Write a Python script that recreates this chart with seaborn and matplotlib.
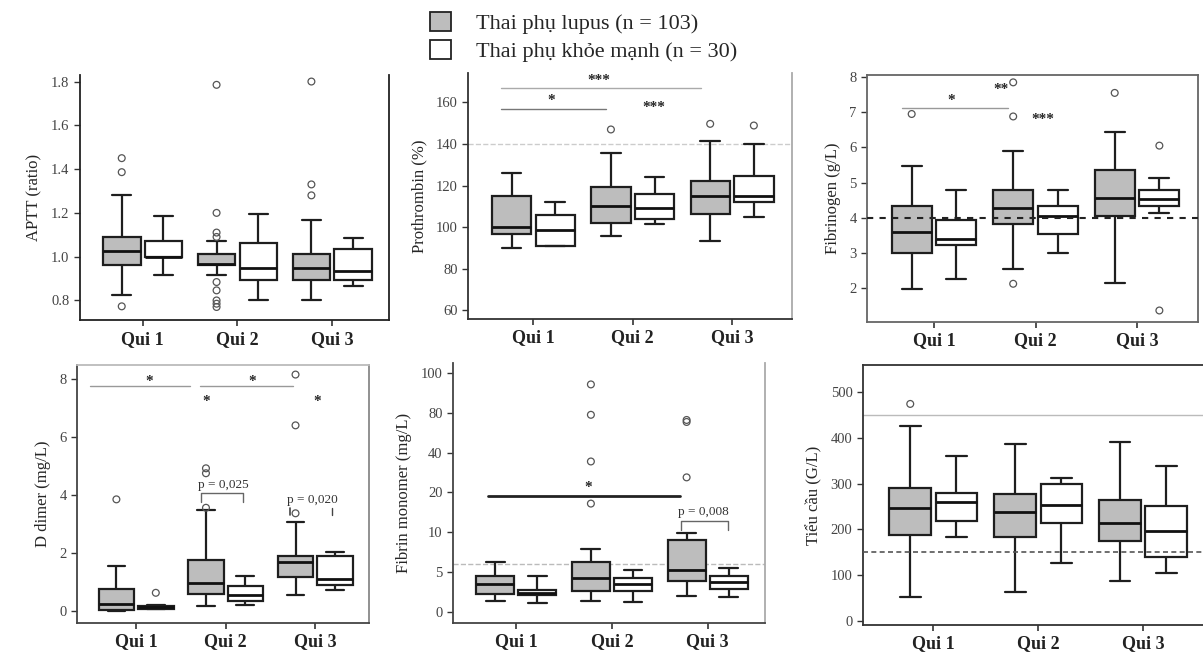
import numpy as np
import pandas as pd
import matplotlib
matplotlib.use("Agg")
import matplotlib.pyplot as plt
import seaborn as sns
from matplotlib.patches import Patch

# ---------------- data ----------------
CATEGORIES = ["Qui 1", "Qui 2", "Qui 3"]
GROUPS = ["Thai phụ lupus (n = 103)", "Thai phụ khỏe mạnh (n = 30)"]

# each row = [lower whisker, Q1, median, Q3, upper whisker] for Qui 1..3
APTT_LUPUS = [[0.823, 0.96, 1.024, 1.09, 1.281], [0.915, 0.96, 0.965, 1.014, 1.07], [0.803, 0.892, 0.95, 1.014, 1.166]]
APTT_HEALTHY = [[0.915, 1.0, 1.0, 1.07, 1.185], [0.803, 0.892, 0.95, 1.063, 1.194], [0.864, 0.895, 0.933, 1.034, 1.083]]
APTT_FLIERS_LUPUS = [[1.45, 1.386, 0.773], [1.785, 1.2, 1.11, 1.09, 0.884, 0.846, 0.80, 0.785, 0.77], [1.8, 1.33, 1.28]]
APTT_FLIERS_HEALTHY = [[], [], []]

PT_LUPUS = [[90.1, 96.5, 100, 115.2, 125.8], [95.7, 102.1, 110.4, 119.2, 135.4], [93.3, 106.4, 115.2, 122.1, 141.6]]
PT_HEALTHY = [[90.9, 90.9, 98.6, 105.8, 112.2], [101.3, 103.7, 109.3, 116, 124], [105, 112, 115.2, 124.8, 139.7]]
PT_FLIERS_LUPUS = [[], [146.9], [149.6]]
PT_FLIERS_HEALTHY = [[], [], [148.8]]

FIB_LUPUS = [[1.97, 3.0, 3.58, 4.34, 5.46], [2.54, 3.82, 4.27, 4.8, 5.89], [2.14, 4.04, 4.56, 5.36, 6.45]]
FIB_HEALTHY = [[2.26, 3.23, 3.39, 3.94, 4.8], [3.0, 3.54, 4.04, 4.32, 4.8], [4.13, 4.32, 4.53, 4.8, 5.13]]
FIB_FLIERS_LUPUS = [[6.95], [7.85, 6.88, 2.12], [7.55]]
FIB_FLIERS_HEALTHY = [[], [], [6.05, 1.36]]

DD_LUPUS = [[0.02, 0.05, 0.23, 0.77, 1.54], [0.16, 0.6, 0.98, 1.75, 3.48], [0.56, 1.18, 1.69, 1.89, 3.08]]
DD_HEALTHY = [[0.07, 0.07, 0.14, 0.17, 0.2], [0.22, 0.35, 0.54, 0.85, 1.2], [0.71, 0.91, 1.12, 1.89, 2.04]]
DD_FLIERS_LUPUS = [[3.85], [4.92, 4.75, 3.56], [8.15, 6.4, 3.37]]
DD_FLIERS_HEALTHY = [[0.63], [], []]

FM_LUPUS = [[1.4, 2.2, 3.44, 4.5, 6.3], [1.4, 2.65, 4.2, 6.3, 7.85], [1.97, 3.9, 5.25, 9.0, 9.85]]
FM_HEALTHY = [[1.05, 2.1, 2.4, 2.7, 4.5], [1.25, 2.65, 3.44, 4.2, 5.3], [1.9, 2.9, 3.7, 4.5, 5.45]]
FM_FLIERS_LUPUS = [[], [94.4, 78.2, 35.6, 17.2], [73, 71, 27.6]]
FM_FLIERS_HEALTHY = [[], [], []]
FM_TICKS = [0, 5, 10, 20, 40, 80, 100]

PLT_LUPUS = [[53, 187.5, 246, 291, 425], [62.5, 184, 237, 277, 386], [88, 174, 215, 264, 391]]
PLT_HEALTHY = [[184, 219, 259, 280.5, 360], [127, 215, 254, 300, 312.5], [104, 140, 197, 251, 338]]
PLT_FLIERS_LUPUS = [[474], [], []]
PLT_FLIERS_HEALTHY = [[], [], []]

# ---------------- style ----------------
sns.set_theme(style="white")
plt.rcParams["font.family"] = ["Liberation Serif", "DejaVu Serif"]
plt.rcParams["xtick.bottom"] = True
plt.rcParams["ytick.left"] = True

FILL_LUPUS = "#bdbdbd"
PALETTE = {GROUPS[0]: FILL_LUPUS, GROUPS[1]: "white"}
BOX_W = 0.88
GAP = 0.1
XLIM = (-0.66, 2.6)

fig = plt.figure(figsize=(12.03, 6.52), dpi=100)


def long_frame(lupus, healthy):
    rows = []
    for g, boxes in zip(GROUPS, [lupus, healthy]):
        for c, vals in zip(CATEGORIES, boxes):
            for v in vals:
                rows.append((c, g, v))
    return pd.DataFrame(rows, columns=["quarter", "group", "value"])


def panel(rect, lupus, healthy, fl_l, fl_h, ylabel, ylim, yticks,
          spines=("left", "bottom", "right"), spine_color="#222222"):
    ax = fig.add_axes(rect)
    df = long_frame(lupus, healthy)
    sns.boxplot(data=df, x="quarter", y="value", hue="group", order=CATEGORIES,
                hue_order=GROUPS, palette=PALETTE, whis=(0, 100), width=BOX_W,
                gap=GAP, linecolor="#1e1e1e", linewidth=1.6, showfliers=False,
                saturation=1, legend=False, ax=ax,
                medianprops={"linewidth": 2.0, "color": "#111111"})
    for gi, fl in enumerate([fl_l, fl_h]):
        off = (gi - 0.5) * BOX_W / 2
        for ci, pts in enumerate(fl):
            if len(pts):
                ax.scatter(np.full(len(pts), ci + off), pts, s=24, facecolors="none",
                           edgecolors="#555555", linewidths=0.9, zorder=4)
    ax.set_xlim(*XLIM)
    ax.set_ylim(*ylim)
    ax.set_yticks(yticks)
    ax.set_xlabel("")
    ax.set_ylabel(ylabel, fontsize=12, labelpad=6)
    ax.tick_params(axis="x", labelsize=13, length=4, width=1.2, color="#333333",
                   labelcolor="#222222")
    ax.tick_params(axis="y", labelsize=10.5, length=4, width=1.0, color="#333333",
                   labelcolor="#444444")
    for lab in ax.get_xticklabels():
        lab.set_fontweight("bold")
    for s in ["left", "right", "top", "bottom"]:
        ax.spines[s].set_visible(s in spines)
        ax.spines[s].set_color(spine_color)
        ax.spines[s].set_linewidth(1.3)
    return ax


def bracket(ax, x0, x1, y, color="#999999", lw=1.0):
    ax.plot([x0, x1], [y, y], color=color, lw=lw, zorder=3)


# ---------------- top row ----------------
ax1 = panel([0.0665, 0.509, 0.257, 0.376], APTT_LUPUS, APTT_HEALTHY,
            APTT_FLIERS_LUPUS, APTT_FLIERS_HEALTHY, "APTT (ratio)",
            (0.71, 1.83), [0.8, 1.0, 1.2, 1.4, 1.6, 1.8])
ax1.set_yticklabels(["0.8", "1.0", "1.2", "1.4", "1.6", "1.8"])

ax2 = panel([0.389, 0.511, 0.269, 0.377], PT_LUPUS, PT_HEALTHY,
            PT_FLIERS_LUPUS, PT_FLIERS_HEALTHY, "Prothrombin (%)",
            (56, 174), [60, 80, 100, 120, 140, 160],
            spine_color="#333333")
ax2.spines["right"].set_color("#aaaaaa")
ax2.axhline(140, color="#cccccc", ls="--", lw=1.0, zorder=0)
bracket(ax2, -0.33, 0.73, 156.8, color="#777777")
bracket(ax2, -0.33, 1.69, 166.6, color="#aaaaaa")
ax2.text(0.18, 157.6, "*", ha="center", va="bottom", fontsize=11, fontweight="bold")
ax2.text(0.66, 167.2, "***", ha="center", va="bottom", fontsize=11, fontweight="bold")
ax2.text(1.21, 154.5, "***", ha="center", va="bottom", fontsize=11, fontweight="bold")

ax3 = panel([0.7207, 0.506, 0.2751, 0.379], FIB_LUPUS, FIB_HEALTHY,
            FIB_FLIERS_LUPUS, FIB_FLIERS_HEALTHY, "Fibrinogen (g/L)",
            (1.03, 8.06), [2, 3, 4, 5, 6, 7, 8],
            spines=("left", "bottom", "right", "top"), spine_color="#666666")
ax3.axhline(4, color="#222222", ls=(0, (3, 3)), lw=1.5, zorder=5)
bracket(ax3, -0.32, 0.73, 7.12, color="#999999")
ax3.text(0.17, 7.14, "*", ha="center", va="bottom", fontsize=11, fontweight="bold")
ax3.text(0.66, 7.45, "**", ha="center", va="bottom", fontsize=11, fontweight="bold")
ax3.text(1.07, 6.62, "***", ha="center", va="bottom", fontsize=11, fontweight="bold")

# ---------------- bottom row ----------------
ax4 = panel([0.064, 0.0445, 0.2427, 0.3957], DD_LUPUS, DD_HEALTHY,
            DD_FLIERS_LUPUS, DD_FLIERS_HEALTHY, "D dimer (mg/L)",
            (-0.41, 8.48), [0, 2, 4, 6, 8],
            spines=("left", "bottom", "right", "top"), spine_color="#444444")
ax4.spines["top"].set_color("#bbbbbb")
ax4.spines["right"].set_color("#888888")
bracket(ax4, -0.52, 0.60, 7.75)
bracket(ax4, 0.71, 1.75, 7.75)
ax4.text(0.15, 7.7, "*", ha="center", va="bottom", fontsize=11, fontweight="bold")
ax4.text(1.30, 7.7, "*", ha="center", va="bottom", fontsize=11, fontweight="bold")
ax4.text(0.78, 7.0, "*", ha="center", va="bottom", fontsize=11, fontweight="bold")
ax4.text(2.02, 7.0, "*", ha="center", va="bottom", fontsize=11, fontweight="bold")
ax4.plot([0.72, 0.72, 1.19, 1.19], [3.75, 4.06, 4.06, 3.75], color="#666666", lw=1.0)
ax4.text(0.97, 4.15, "p = 0,025", ha="center", va="bottom", fontsize=9.5, color="#333333")
ax4.plot([1.72, 1.72], [3.3, 3.55], color="#444444", lw=1.2)
ax4.plot([2.19, 2.19], [3.3, 3.55], color="#444444", lw=1.0)
ax4.text(1.97, 3.62, "p = 0,020", ha="center", va="bottom", fontsize=9.5, color="#333333")

FM_POS = np.arange(len(FM_TICKS), dtype=float)


def fm_fwd(v):
    v = np.asarray(v, dtype=float)
    lo = v / 5.0
    hi = 6 + (v - 100) / 20.0
    return np.where(v < 0, lo, np.where(v > 100, hi, np.interp(v, FM_TICKS, FM_POS)))


def fm_inv(p):
    p = np.asarray(p, dtype=float)
    lo = p * 5.0
    hi = 100 + (p - 6) * 20.0
    return np.where(p < 0, lo, np.where(p > 6, hi, np.interp(p, FM_POS, FM_TICKS)))


ax5 = panel([0.3766, 0.0445, 0.2594, 0.3988], FM_LUPUS, FM_HEALTHY,
            FM_FLIERS_LUPUS, FM_FLIERS_HEALTHY, "Fibrin monomer (mg/L)",
            (-1.43, 105.2), FM_TICKS, spine_color="#444444")
ax5.spines["right"].set_color("#aaaaaa")
ax5.set_yscale("function", functions=(fm_fwd, fm_inv))
ax5.set_ylim(-1.43, 105.2)
ax5.set_yticks(FM_TICKS)
ax5.set_yticklabels([str(t) for t in FM_TICKS])
ax5.minorticks_off()
ax5.axhline(6, color="#bbbbbb", ls="--", lw=1.0, zorder=0)
ax5.plot([-0.3, 1.71], [19.2, 19.2], color="#222222", lw=2.0, zorder=3)
ax5.text(0.75, 19.6, "*", ha="center", va="bottom", fontsize=11, fontweight="bold")
ax5.plot([1.72, 1.72, 2.21, 2.21], [10.6, 12.7, 12.7, 10.6], color="#666666", lw=1.0)
ax5.text(1.95, 13.6, "p = 0,008", ha="center", va="bottom", fontsize=9.5, color="#333333")

ax6 = panel([0.7174, 0.0414, 0.2826, 0.3988], PLT_LUPUS, PLT_HEALTHY,
            PLT_FLIERS_LUPUS, PLT_FLIERS_HEALTHY, "Tiểu cầu (G/L)",
            (-8.7, 559), [0, 100, 200, 300, 400, 500],
            spines=("left", "bottom", "top"), spine_color="#333333")
ax6.set_xlim(-0.67, 2.57)
ax6.axhline(450, color="#bbbbbb", ls="-", lw=1.0, zorder=0)
ax6.axhline(150, color="#555555", ls=(0, (3, 2)), lw=1.2, zorder=5)

# ---------------- legend ----------------
handles = [Patch(facecolor=FILL_LUPUS, edgecolor="#222222", linewidth=1.3),
           Patch(facecolor="white", edgecolor="#222222", linewidth=1.3)]
fig.legend(handles, GROUPS, loc="upper left", bbox_to_anchor=(0.341, 1.012),
           frameon=False, fontsize=16, handlelength=0.95, handleheight=0.95,
           handletextpad=1.1, labelspacing=0.25)

fig.savefig("out.png", dpi=100)
